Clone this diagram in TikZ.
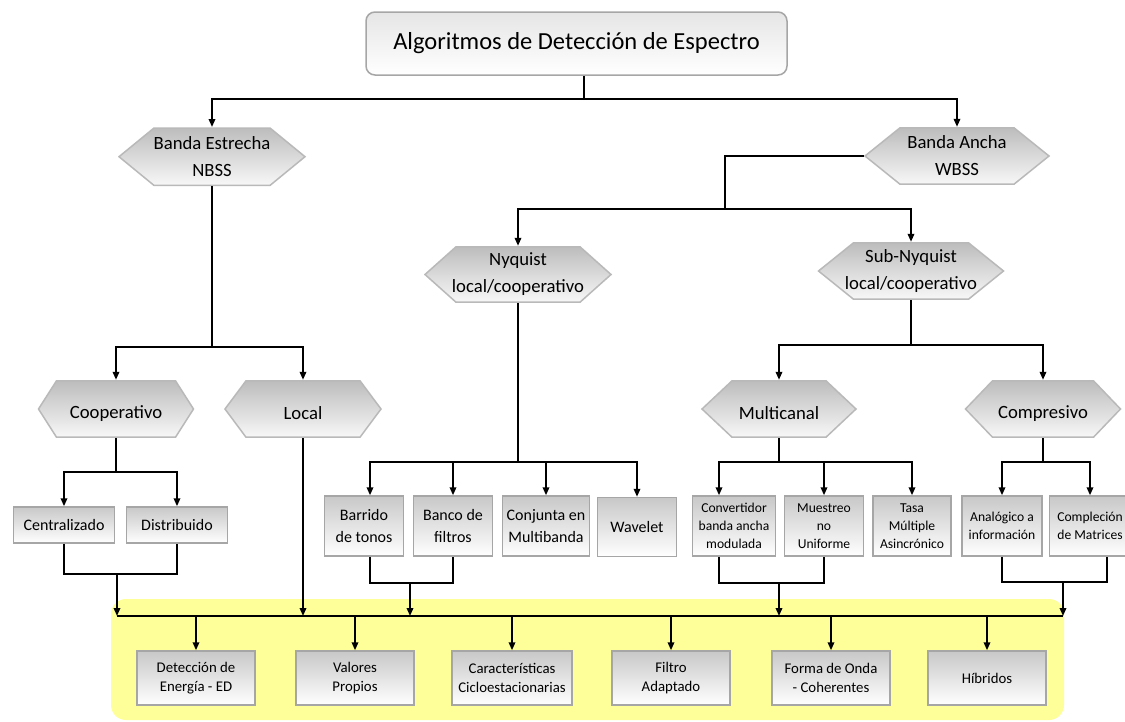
\documentclass[tikz,border=0pt]{standalone}
\usepackage{fontspec}
\setmainfont{Carlito}
\usetikzlibrary{arrows.meta,calc}
\pgfdeclarelayer{background}
\pgfsetlayers{background,main}
\definecolor{ylw}{RGB}{255,255,153}
\definecolor{bord}{RGB}{166,166,166}
\definecolor{hexbord}{RGB}{185,185,185}
\definecolor{hextop}{RGB}{188,188,188}
\definecolor{hexbot}{RGB}{248,248,248}
\definecolor{boxtop}{RGB}{200,200,200}
\def\hexin{30}
\begin{document}
\begin{tikzpicture}[x=1pt,y=-1pt,
  conn/.style={line width=1.8pt, draw=black},
  arr/.style={conn, -{Triangle[length=8pt,width=6.5pt]}},
  hexin/.store in=\hexin,
  hexa/.style={inner sep=0pt, align=center, font=\fontsize{18.7pt}{27pt}\selectfont,
    execute at begin node={\rule{0pt}{21pt}},
    path picture={
      \shadedraw[top color=hextop, bottom color=hexbot, draw=hexbord, line width=1.5pt]
        ([xshift=1pt]path picture bounding box.west) --
        ([xshift=\hexin pt,yshift=-0.8pt]path picture bounding box.north west) --
        ([xshift=-\hexin pt,yshift=-0.8pt]path picture bounding box.north east) --
        ([xshift=-1pt]path picture bounding box.east) --
        ([xshift=-\hexin pt,yshift=0.8pt]path picture bounding box.south east) --
        ([xshift=\hexin pt,yshift=0.8pt]path picture bounding box.south west) -- cycle;
    }},
  titlebox/.style={draw=bord, line width=1.5pt, rounded corners=9pt, top color=gray!20, bottom color=white,
    minimum width=421pt, minimum height=63pt, inner sep=0pt, font=\fontsize{24.5pt}{29pt}\selectfont},
  rectbox/.style={draw=bord, line width=1.5pt, top color=boxtop, bottom color=white, inner sep=0pt,
    align=center, font=\fontsize{16pt}{22.7pt}\selectfont},
  leafsmall/.style={font=\fontsize{13.6pt}{18.3pt}\selectfont},
  botbox/.style={rectbox, minimum width=118pt, minimum height=54pt, font=\fontsize{14.8pt}{19.5pt}\selectfont}
]
\useasboundingbox (0,0) rectangle (1125,721);
\begin{pgfonlayer}{background}
  \fill[white] (0,0) rectangle (1125,721);
  \fill[ylw, rounded corners=15pt] (111,599) rectangle (1064,720);
\end{pgfonlayer}

% title
\node[titlebox] (title) at (576.5,43.5) {Algoritmos de Detección de Espectro};

% hexagons
\node[hexa, hexin=36, minimum width=188pt, minimum height=59pt] (nbss) at (212,156.7) {Banda Estrecha\\NBSS};
\node[hexa, hexin=36, minimum width=186pt, minimum height=58pt] (wbss) at (957,156) {Banda Ancha\\WBSS};
\node[hexa, hexin=32, minimum width=188pt, minimum height=57pt] (nyq) at (518,274.5) {Nyquist\\local/cooperativo};
\node[hexa, hexin=36, minimum width=187pt, minimum height=58pt] (sub) at (911,271) {Sub-Nyquist\\local/cooperativo};
\node[hexa, hexin=19, minimum width=157pt, minimum height=58pt] (coop) at (116,409) {Cooperativo};
\node[hexa, hexin=22, minimum width=158pt, minimum height=58pt] (local) at (303,409) {Local};
\node[hexa, hexin=31, minimum width=156pt, minimum height=58pt] (multi) at (779,409) {Multicanal};
\node[hexa, hexin=28, minimum width=157pt, minimum height=58pt] (comp) at (1043,409) {Compresivo};

% leaf boxes
\node[rectbox, minimum width=101pt, minimum height=36pt] (cen) at (64,525) {Centralizado};
\node[rectbox, minimum width=101pt, minimum height=36pt] (dis) at (177,525) {Distribuido};
\node[rectbox, minimum width=79pt, minimum height=60pt] (barr) at (364,526) {Barrido\\de tonos};
\node[rectbox, minimum width=79pt, minimum height=60pt] (banco) at (453,526) {Banco de\\filtros};
\node[rectbox, minimum width=87pt, minimum height=60pt] (conj) at (546,526) {Conjunta en\\Multibanda};
\node[rectbox, minimum width=79pt, minimum height=59pt] (wav) at (637,527) {Wavelet};
\node[rectbox, leafsmall, minimum width=83pt, minimum height=60pt] (conv) at (734,526) {Convertidor\\banda ancha\\modulada};
\node[rectbox, leafsmall, minimum width=79pt, minimum height=60pt] (mues) at (824,526) {Muestreo\\no\\Uniforme};
\node[rectbox, leafsmall, minimum width=78pt, minimum height=60pt] (tasa) at (912,526) {Tasa\\Múltiple\\Asincrónico};
\node[rectbox, leafsmall, minimum width=80pt, minimum height=60pt] (anal) at (1002,526) {Analógico a\\información};
\node[rectbox, leafsmall, minimum width=81pt, minimum height=60pt] (compl) at (1090,526) {Compleción\\de Matrices};

% bottom boxes
\node[botbox] (det) at (196,678) {Detección de\\Energía - ED};
\node[botbox] (val) at (355,678) {Valores\\Propios};
\node[botbox, minimum width=120pt] (car) at (512,678) {Características\\Cicloestacionarias};
\node[botbox] (fil) at (671,678) {Filtro\\Adaptado};
\node[botbox] (onda) at (831,678) {Forma de Onda\\- Coherentes};
\node[botbox] (hib) at (987,678) {Híbridos};

% coordinates
\coordinate (j0) at (584,99);
\coordinate (j1) at (725,209);
\coordinate (j2) at (212,347);
\coordinate (j3) at (116,472);
\coordinate (j4) at (117,574);
\coordinate (j5) at (518,462);
\coordinate (j6) at (410,583);
\coordinate (j7) at (911,345);
\coordinate (j8) at (779,462);
\coordinate (j9) at (779,583);
\coordinate (j10) at (1043,462);
\coordinate (j11) at (1063,582);
\coordinate (busL) at (117,616);
\coordinate (busR) at (1063,616);

% top level
\draw[conn] (title.south -| j0) -- (j0);
\draw[arr] (j0) -| (nbss.north);
\draw[arr] (j0) -| (wbss.north);
% wide band
\draw[conn] (wbss.west) -| (j1);
\draw[arr] (j1) -| (nyq.north);
\draw[arr] (j1) -| (sub.north);
% narrow band
\draw[conn] (nbss.south) -- (j2);
\draw[arr] (j2) -| (coop.north);
\draw[arr] (j2) -| (local.north);
% cooperativo
\draw[conn] (coop.south) -- (j3);
\draw[arr] (j3) -| (cen.north);
\draw[arr] (j3) -| (dis.north);
\draw[conn] (cen.south) |- (j4) -| (dis.south);
\draw[arr] (j4) -- (busL);
% local
\draw[arr] (local.south) -- (local.south |- busL);
% nyquist
\draw[conn] (nyq.south) -- (j5);
\draw[arr] (j5) -| ([xshift=6pt]barr.north);
\draw[arr] (j5) -| (banco.north);
\draw[arr] (j5) -| (conj.north);
\draw[arr] (j5) -| (wav.north);
\draw[conn] ([xshift=6pt]barr.south) |- (j6) -| (banco.south);
\draw[arr] (j6) -- (j6 |- busL);
% sub-nyquist
\draw[conn] (sub.south) -- (j7);
\draw[arr] (j7) -| (multi.north);
\draw[arr] (j7) -| (comp.north);
% multicanal
\draw[conn] (multi.south) -- (j8);
\draw[arr] (j8) -| ([xshift=-15pt]conv.north);
\draw[arr] (j8) -| (mues.north);
\draw[arr] (j8) -| (tasa.north);
\draw[conn] ([xshift=-15pt]conv.south) |- (j9) -| (mues.south);
\draw[arr] (j9) -- (j9 |- busL);
% compresivo
\draw[conn] (comp.south) -- (j10);
\draw[arr] (j10) -| (anal.north);
\draw[arr] (j10) -| (compl.north);
\draw[conn] (anal.south) |- (j11) -| ([xshift=17pt]compl.south);
\draw[arr] (j11) -- (busR);
% bus
\draw[conn] (busL) -- (busR);
\foreach \n in {det,val,car,fil,onda,hib}
  \draw[arr] (\n.north |- busL) -- (\n.north);
\end{tikzpicture}
\end{document}
